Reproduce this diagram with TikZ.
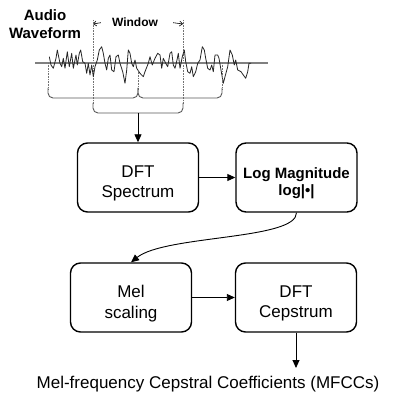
\documentclass[tikz,border=0pt]{standalone}
\usepackage{fontspec}
\setmainfont{Liberation Sans}
\usetikzlibrary{arrows.meta}

\begin{document}
\begin{tikzpicture}[x=1pt, y=-1pt,
    block/.style = {draw, line width=1.4pt, rounded corners=10pt, minimum width=121pt, minimum height=69pt, inner sep=0pt},
    blocktext/.style = {align=center, inner sep=0pt, font=\fontsize{17}{20.5}\selectfont},
    brace/.style = {draw=black!65, line width=0.9pt, rounded corners=5pt},
    guide/.style = {draw=black!55, densely dotted, line width=0.6pt},
    winarrow/.style = {-{Straight Barb[length=3pt, width=5pt]}, line width=0.6pt},
    >={Triangle[length=8pt, width=7pt]}]
    \useasboundingbox (0, 0) rectangle (401, 406);
    \node[font=\bfseries\fontsize{15}{18}\selectfont, align=center, inner sep=0pt] (Audio) at (45, 23.7) {Audio\\Waveform};
    \node[font=\bfseries\fontsize{12}{14}\selectfont, inner sep=0pt] (Window) at (135, 22.7) {Window};
    \coordinate (Window Left) at (93, 24);
    \coordinate (Window Right) at (183, 24);
    \draw[winarrow] ([xshift=-11pt]Window.west) -- (Window Left);
    \draw[winarrow] ([xshift=15pt]Window.east) -- (Window Right);
    \draw[guide] (93, 20) -- (93, 104);
    \draw[guide] (183, 20) -- (183, 104);
    % signal
    \draw[black!50, line width=1.4pt] (35, 63) -- (268, 63);
    \draw[black!85, line width=0.8pt, line join=round] plot coordinates {
      (49.3,56.7) (51,65) (53.3,68.3) (56,58.3) (57.3,50) (60,63.3) (61.7,66.7) (63.3,58.3)
      (65,68.3) (67.3,51.7) (69.3,66.7) (71.7,53.3) (73.3,68.3) (76,55) (77.3,65) (79.3,53.3)
      (80.7,50) (82.7,61.7) (85,63.3) (86.7,73.3) (88.3,63.3) (90,75) (91.7,65) (93.3,76.7)
      (95,66.7) (97.3,60) (99.3,50) (101.7,46.7) (103.3,53.3) (105,63.3) (106.7,70) (108.3,58.3)
      (110,55) (111.7,70) (114,71.7) (116,56.7) (118.3,55) (120,63.3) (122.7,71.7) (125,83.3)
      (126.7,70) (128.3,50) (130,53.3) (131.7,63.3) (133.3,66.7) (135,60) (136.7,68.3) (140,73.3)
      (143.3,76.7) (145,71.7) (148.3,63.3) (150,56.7) (152.3,65) (155,58.3) (157.7,53.3) (160,55)
      (161.7,68.3) (163.3,58.3) (165.7,63.3) (167.7,66.7) (170,53.3) (171.7,51.7) (173.3,65) (175,68.3)
      (177,60) (178.3,53.3) (180,68.3) (182.3,56.7) (184.3,50) (185.7,61.7) (187.7,71.7) (190,73.3)
      (191.7,66.7) (193.3,76.7) (195.7,71.7) (197.7,63.3) (200,60) (202.3,46.7) (204.3,50) (205.7,58.3)
      (207.7,68.3) (210,70) (211.7,65) (213.3,71.7) (215,55) (217.7,55) (219,58.3) (221,70)
      (223.3,83.3) (225,76.7) (227.7,66.7) (230,50) (232.3,55) (234.3,65) (235.7,60) (237.7,70)
      (241,71.7) (243.3,75) (245.7,78.3) (247.7,71.7) (249,63.3) (251,63.3)};
    % frames
    \draw[guide] (48, 63) -- (48, 90);
    \draw[guide] (138, 70) -- (138, 90);
    \draw[guide] (222, 63) -- (222, 90);
    \draw[brace] (48, 88) -- (48, 98) -- (138, 98) -- (138, 88);
    \draw[brace] (138, 88) -- (138, 98) -- (222, 98) -- (222, 88);
    \draw[brace] (93, 103) -- (93, 113) -- (183, 113) -- (183, 103);
    \coordinate (Window Brace) at (138, 113);
    % blocks
    \node[block] (DFT Spectrum) at (138, 177.5) {};
    \node[block] (Log Magnitude) at (296.5, 177.5) {};
    \node[block] (Mel Scaling) at (131, 297.5) {};
    \node[block] (DFT Cepstrum) at (296, 297.5) {};
    \node[blocktext] (DFT Spectrum Text) at (138, 183.2) {DFT\\Spectrum};
    \node[blocktext, font=\bfseries\fontsize{15}{17}\selectfont] (Log Magnitude Text) at (296.5, 182.8) {Log Magnitude\\log|•|};
    \node[blocktext] (Mel Scaling Text) at (131, 303.5) {Mel\\scaling};
    \node[blocktext] (DFT Cepstrum Text) at (296, 303.5) {DFT\\Cepstrum};
    \node[font=\fontsize{17}{20}\selectfont, anchor=base, inner sep=0pt] (MFCC) at (208, 388) {Mel-frequency Cepstral Coefficients (MFCCs)};
    \coordinate (MFCC Arrow) at (296, 368);
    \draw[->, line width=0.9pt] (Window Brace) -- (DFT Spectrum.north);
    \draw[->, line width=0.9pt] (DFT Spectrum) -- (Log Magnitude);
    \draw[->, line width=0.9pt] (Log Magnitude.south) .. controls (297, 240) and (165, 235) .. (Mel Scaling.north);
    \draw[->, line width=0.9pt] (Mel Scaling) -- (DFT Cepstrum);
    \draw[->, line width=0.9pt] (DFT Cepstrum.south) -- (MFCC Arrow);
  \end{tikzpicture}
\end{document}
